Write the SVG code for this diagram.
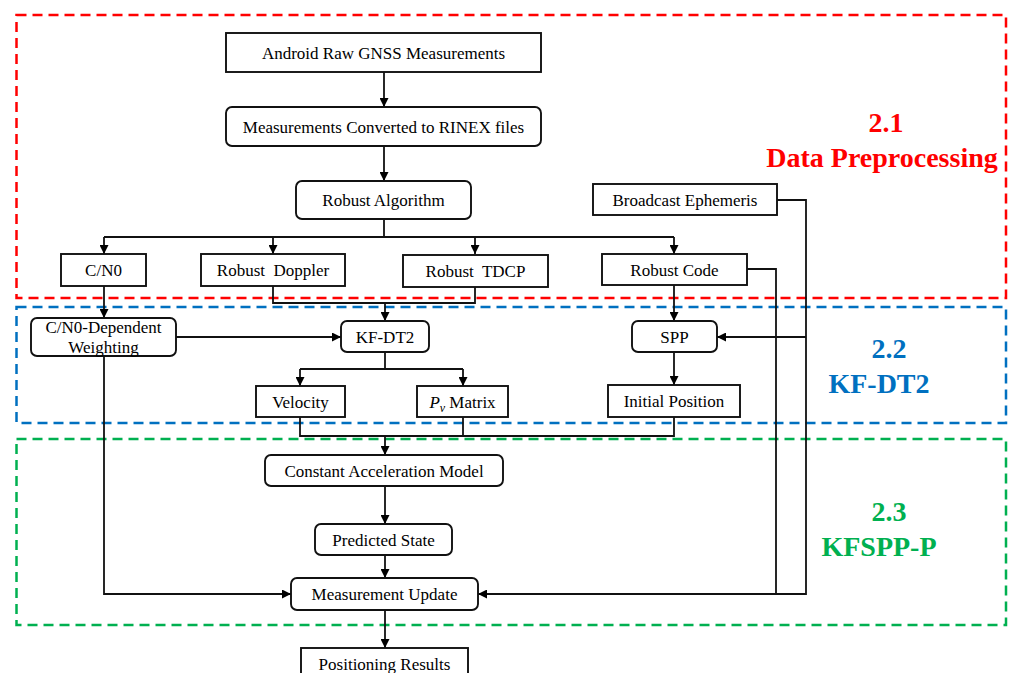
<svg xmlns="http://www.w3.org/2000/svg" width="1009" height="673" viewBox="0 0 1009 673">
<style>
.bx{fill:#fff;stroke:#111;stroke-width:1.9}
.t{font-family:"Liberation Serif","Times New Roman",serif;font-size:17px;fill:#000;text-anchor:middle}
.c{fill:none;stroke:#111;stroke-width:1.8}
.grp{fill:none;stroke-width:2.5;stroke-dasharray:10 6}
.lab{font-family:"Liberation Serif","Times New Roman",serif;font-size:28px;font-weight:bold;text-anchor:middle}
</style>
<defs>
<marker id="ah" viewBox="0 0 10 10" refX="10" refY="5" markerWidth="9" markerHeight="9" markerUnits="userSpaceOnUse" orient="auto">
<path d="M0,0 L10,5 L0,10 Z" fill="#000"/>
</marker>
</defs>
<rect width="1009" height="673" fill="#fff"/>
<g id="groups">
<rect class="grp" x="16.5" y="15" width="989.5" height="283" stroke="#FF0000"/>
<rect class="grp" x="16.5" y="307" width="989.5" height="116" stroke="#0070C0"/>
<rect class="grp" x="16.5" y="439" width="989.5" height="186" stroke="#00B050"/>
<text class="lab" x="886" y="132" fill="#FF0000">2.1</text>
<text class="lab" x="882" y="167" fill="#FF0000">Data Preprocessing</text>
<text class="lab" x="889" y="358" fill="#0070C0">2.2</text>
<text class="lab" x="879" y="393" fill="#0070C0">KF-DT2</text>
<text class="lab" x="889" y="521" fill="#00B050">2.3</text>
<text class="lab" x="879" y="556" fill="#00B050">KFSPP-P</text>
</g>
<g id="connectors">
<path class="c" d="M384,72 V107" marker-end="url(#ah)"/>
<path class="c" d="M384,146 V181" marker-end="url(#ah)"/>
<path class="c" d="M384,219 V237 M104,237 H674"/>
<path class="c" d="M104,237 V254" marker-end="url(#ah)"/>
<path class="c" d="M273,237 V254" marker-end="url(#ah)"/>
<path class="c" d="M475,237 V254" marker-end="url(#ah)"/>
<path class="c" d="M674,237 V254" marker-end="url(#ah)"/>
<path class="c" d="M104,286 V318" marker-end="url(#ah)"/>
<path class="c" d="M273,286 V303 H475 V286"/>
<path class="c" d="M385,303 V321" marker-end="url(#ah)"/>
<path class="c" d="M674,285 V321" marker-end="url(#ah)"/>
<path class="c" d="M747,269 H776 V594"/>
<path class="c" d="M777,200 H806 V594 H478" marker-end="url(#ah)"/>
<path class="c" d="M806,337 H717" marker-end="url(#ah)"/>
<path class="c" d="M176,337 H341" marker-end="url(#ah)"/>
<path class="c" d="M385,352 V369 M300,369 H463"/>
<path class="c" d="M300,369 V386" marker-end="url(#ah)"/>
<path class="c" d="M463,369 V386" marker-end="url(#ah)"/>
<path class="c" d="M674,352 V385" marker-end="url(#ah)"/>
<path class="c" d="M300,417 V436 H674 V417 M463,417 V436"/>
<path class="c" d="M385,436 V455" marker-end="url(#ah)"/>
<path class="c" d="M385,486 V524" marker-end="url(#ah)"/>
<path class="c" d="M385,555 V578" marker-end="url(#ah)"/>
<path class="c" d="M104,356 V594 H291" marker-end="url(#ah)"/>
<path class="c" d="M385,610 V648" marker-end="url(#ah)"/>
</g>
<g id="n-android"><rect class="bx" x="226" y="33" width="315" height="39"/><text class="t" x="383.5" y="59">Android Raw GNSS Measurements</text></g>
<g id="n-rinex"><rect class="bx" x="226" y="107" width="315" height="39" rx="6"/><text class="t" x="383.5" y="133">Measurements Converted to RINEX files</text></g>
<g id="n-robust"><rect class="bx" x="296" y="181" width="175" height="38" rx="6"/><text class="t" x="383.5" y="206">Robust Algorithm</text></g>
<g id="n-ephem"><rect class="bx" x="593" y="184" width="184" height="31"/><text class="t" x="685" y="206">Broadcast Ephemeris</text></g>
<g id="n-cn0"><rect class="bx" x="61" y="254" width="85" height="32"/><text class="t" x="103.5" y="276">C/N0</text></g>
<g id="n-doppler"><rect class="bx" x="201" y="254" width="144" height="32"/><text class="t" x="273" y="276" xml:space="preserve">Robust  Doppler</text></g>
<g id="n-tdcp"><rect class="bx" x="403" y="255" width="145" height="32"/><text class="t" x="475.5" y="277" xml:space="preserve">Robust  TDCP</text></g>
<g id="n-code"><rect class="bx" x="602" y="254" width="145" height="31"/><text class="t" x="674.5" y="276">Robust Code</text></g>
<g id="n-weight"><rect class="bx" x="31" y="318" width="145" height="38" rx="6"/><text class="t" x="103.5" y="333">C/N0-Dependent</text><text class="t" x="103.5" y="353">Weighting</text></g>
<g id="n-kfdt2"><rect class="bx" x="341" y="321" width="88" height="31" rx="6"/><text class="t" x="385" y="343">KF-DT2</text></g>
<g id="n-spp"><rect class="bx" x="632" y="321" width="85" height="31" rx="6"/><text class="t" x="674.5" y="343">SPP</text></g>
<g id="n-velocity"><rect class="bx" x="256" y="386" width="89" height="31"/><text class="t" x="300.5" y="408">Velocity</text></g>
<g id="n-pv"><rect class="bx" x="417" y="386" width="91" height="31"/><text class="t" x="462.5" y="408"><tspan font-style="italic">P</tspan><tspan font-style="italic" font-size="12" dy="4">v</tspan><tspan dy="-4"> Matrix</tspan></text></g>
<g id="n-init"><rect class="bx" x="608" y="385" width="132" height="32"/><text class="t" x="674" y="407">Initial Position</text></g>
<g id="n-cam"><rect class="bx" x="265" y="455" width="238" height="31" rx="6"/><text class="t" x="384" y="477">Constant Acceleration Model</text></g>
<g id="n-pred"><rect class="bx" x="315" y="524" width="137" height="31" rx="6"/><text class="t" x="383.5" y="546">Predicted State</text></g>
<g id="n-mu"><rect class="bx" x="291" y="578" width="187" height="32" rx="6"/><text class="t" x="384.5" y="600">Measurement Update</text></g>
<g id="n-result"><rect class="bx" x="301" y="648" width="167" height="34"/><text class="t" x="384.5" y="670">Positioning Results</text></g>
</svg>
